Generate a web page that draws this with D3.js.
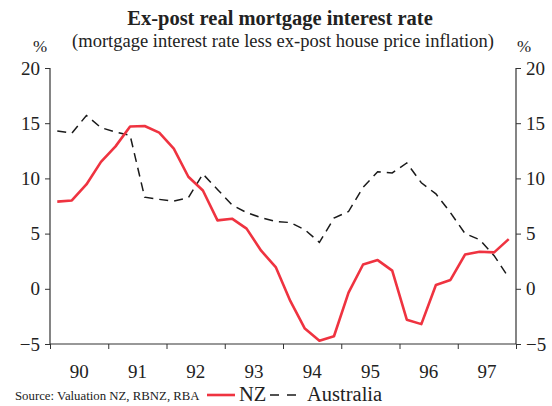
<!DOCTYPE html>
<html>
<head>
<meta charset="utf-8">
<script src="https://cdn.jsdelivr.net/npm/d3@7"></script>
<style>
  body { margin: 0; background: #fff; }
  text { font-family: "Liberation Serif", "Times New Roman", serif; fill: #222; }
</style>
</head>
<body>
<script>
// quarterly data, 1990 Q1 to 1997 Q4
var nz = [7.9, 8.0, 9.45, 11.5, 12.9, 14.7, 14.75, 14.15,
          12.7, 10.15, 8.9, 6.2, 6.35, 5.45, 3.45, 1.97,
          -1.1, -3.6, -4.7, -4.3, -0.35, 2.2, 2.6, 1.65,
          -2.8, -3.2, 0.35, 0.8, 3.1, 3.35, 3.3, 4.5];
var australia = [14.3, 14.1, 15.7, 14.6, 14.2, 13.9, 8.3, 8.1,
                 7.95, 8.25, 10.4, 9.0, 7.6, 6.9, 6.45, 6.1,
                 6.0, 5.35, 4.2, 6.4, 7.0, 9.2, 10.6, 10.5,
                 11.4, 9.6, 8.6, 6.9, 5.0, 4.45, 3.0, 1.0];
var yearLabels = ["90", "91", "92", "93", "94", "95", "96", "97"];
var yTicks = [-5, 0, 5, 10, 15, 20];

var width = 552, height = 406;

var svg = d3.select("body").append("svg")
    .attr("width", width)
    .attr("height", height);

var x = d3.scaleLinear().domain([1990, 1998]).range([50, 516]);
var y = d3.scaleLinear().domain([-5, 20]).range([344, 68]);

//quarter points sit in the middle of each quarter
function qx(i){ return x(1990 + (i + 0.5) / 4); }

//title
svg.append("text")
    .attr("x", 280).attr("y", 25)
    .attr("text-anchor", "middle")
    .style("font-size", "20.5px")
    .style("font-weight", "bold")
    .text("Ex-post real mortgage interest rate");

svg.append("text")
    .attr("x", 283).attr("y", 47)
    .attr("text-anchor", "middle")
    .style("font-size", "18.5px")
    .text("(mortgage interest rate less ex-post house price inflation)");

svg.append("text").attr("x", 40).attr("y", 52).attr("text-anchor", "middle")
    .style("font-size", "17px").text("%");
svg.append("text").attr("x", 524).attr("y", 52).attr("text-anchor", "middle")
    .style("font-size", "17px").text("%");

//axes
var left = svg.append("g")
    .attr("transform", "translate(50,0)")
    .call(d3.axisLeft(y).tickValues(yTicks).tickSize(5).tickPadding(5));
var right = svg.append("g")
    .attr("transform", "translate(516,0)")
    .call(d3.axisRight(y).tickValues(yTicks).tickSize(5).tickPadding(5));
var bottom = svg.append("g")
    .attr("transform", "translate(0,344)")
    .call(d3.axisBottom(x).tickValues(d3.range(1990, 1999)).tickSize(5).tickFormat(""));

svg.selectAll(".domain").attr("stroke", "#333").attr("stroke-width", 1.2);
svg.selectAll(".tick line").attr("stroke", "#333");
[left, right].forEach(function(g){
    g.select(".domain").attr("d", "M0,68V344");
    g.selectAll("text")
        .style("font-size", "19px")
        .style("font-family", "Liberation Serif, serif")
        .attr("fill", "#222");
});
bottom.select(".domain").attr("d", "M50,0H516");

svg.selectAll(".xlab")
    .data(yearLabels)
    .enter()
    .append("text")
    .attr("class", "xlab")
    .attr("x", function(d, i){ return x(1990.5 + i); })
    .attr("y", 378)
    .attr("text-anchor", "middle")
    .style("font-size", "19px")
    .text(function(d){ return d; });

//lines
var line = function(vals){
    return d3.line()
        .x(function(d, i){ return qx(i); })
        .y(function(d){ return y(d); })(vals);
};

svg.append("path")
    .attr("d", line(australia))
    .attr("fill", "none")
    .attr("stroke", "#1a1a1a")
    .attr("stroke-width", 1.5)
    .attr("stroke-dasharray", "9,6");

svg.append("path")
    .attr("d", line(nz))
    .attr("fill", "none")
    .attr("stroke", "#ef3340")
    .attr("stroke-width", 2.6)
    .attr("stroke-linejoin", "round");

//source and legend
svg.append("text")
    .attr("x", 15).attr("y", 400)
    .style("font-size", "12.8px")
    .text("Source: Valuation NZ, RBNZ, RBA");

svg.append("line")
    .attr("x1", 207).attr("x2", 235).attr("y1", 395).attr("y2", 395)
    .attr("stroke", "#ef3340").attr("stroke-width", 2.6);
svg.append("text").attr("x", 239).attr("y", 401)
    .style("font-size", "20.5px").text("NZ");
svg.append("line")
    .attr("x1", 270).attr("x2", 296).attr("y1", 395).attr("y2", 395)
    .attr("stroke", "#1a1a1a").attr("stroke-width", 1.5)
    .attr("stroke-dasharray", "9,8");
svg.append("text").attr("x", 307).attr("y", 401)
    .style("font-size", "20.5px").text("Australia");
</script>
</body>
</html>
